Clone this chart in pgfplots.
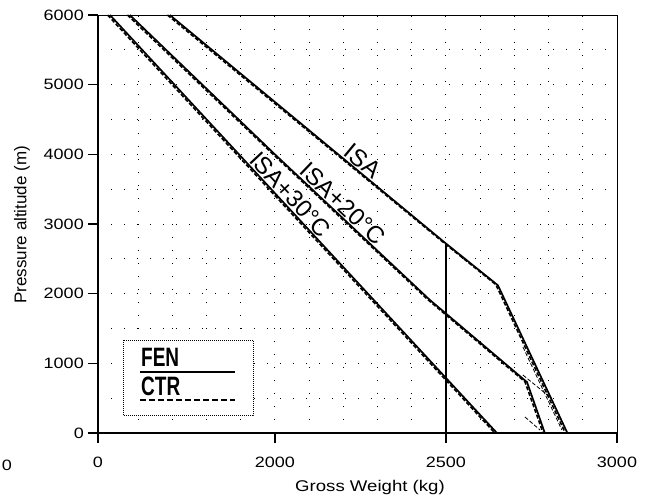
\documentclass[border=0pt]{standalone}
\usepackage{pgfplots}
\pgfplotsset{compat=1.18}
\usepackage{fontspec}
\setmainfont{Liberation Sans}
\begin{document}
\begin{tikzpicture}
\begin{axis}[
  at={(0bp,0bp)}, anchor=south west,
  scale only axis, width=519bp, height=418bp,
  xmin=1483, xmax=3000, ymin=0, ymax=6000,
  xtick={1483,2000,2500,3000}, xticklabels={0,2000,2500,3000},
  ytick={0,1000,...,6000},
  minor xtick={1600,1700,...,2900},
  minor ytick={500,1500,...,5500},
  grid=both,
  major grid style={line width=1bp, dash pattern=on 1bp off 12bp, black},
  minor grid style={line width=1bp, dash pattern=on 1bp off 12bp, black},
  tick align=outside, major tick length=10bp, minor tick length=0pt,
  xtick pos=bottom, ytick pos=left,
  axis line style={line width=0.9bp},
  tick style={line width=1.3bp, black},
  scaled ticks=false,
  /pgf/number format/1000 sep={},
  /pgf/number format/assume math mode=true,
  tick label style={font=\fontsize{15bp}{17bp}\selectfont, xscale=1.2},
  x tick label style={yshift=-11bp},
  xlabel={Gross Weight (kg)}, ylabel={Pressure altitude (m)},
  xlabel style={at={(rel axis cs:0.524,0)}, anchor=center, yshift=-54bp, font=\fontsize{15.5bp}{17bp}\selectfont, xscale=1.2},
  ylabel style={at={(rel axis cs:0,0.498)}, anchor=center, yshift=76bp, font=\fontsize{17bp}{19bp}\selectfont},
  clip=false,
]
% vertical line at 2500
\addplot[black, line width=1.5bp] coordinates {(2500,0) (2500,2720)};
% ISA
\addplot[black, line width=1.7bp] coordinates {(1693,6000) (2500,2720) (2652,2120) (2855,0)};
\addplot[black, line width=1.6bp, dash pattern=on 4bp off 2bp] coordinates {(1686,6000) (2494,2730) (2646,2130) (2849,0)};
% ISA+20
\addplot[black, line width=1.7bp] coordinates {(1576,6000) (2000,4000) (2453,1910) (2737,730) (2789,0)};
\addplot[black, line width=1.6bp, dash pattern=on 4bp off 2bp] coordinates {(1569,6000) (1994,4005) (2447,1915) (2731,735) (2784,0)};
% ISA+30
\addplot[black, line width=1.7bp] coordinates {(1518,6000) (2649,0)};
\addplot[black, line width=1.6bp, dash pattern=on 4bp off 2bp] coordinates {(1511,6000) (2643,0)};
% thin CTR divergences near the ground
\addplot[black, line width=0.8bp, dash pattern=on 4bp off 2bp] coordinates {(2725,1234) (2839,43)};
\addplot[black, line width=0.8bp, dash pattern=on 4bp off 2bp] coordinates {(2725,832) (2804,516)};
\addplot[black, line width=0.8bp, dash pattern=on 4bp off 2bp] coordinates {(2731,230) (2775,43)};
% curve labels
\node[font=\fontsize{24bp}{26bp}\selectfont, rotate=-39.6, anchor=south, inner sep=2bp] at (axis cs:2237,3789) {ISA};
\node[font=\fontsize{24bp}{26bp}\selectfont, rotate=-43.5, anchor=south, inner sep=2bp] at (axis cs:2177,3184) {ISA+20°C};
\node[font=\fontsize{24bp}{26bp}\selectfont, rotate=-47, anchor=south, inner sep=2bp] at (axis cs:2023,3321) {ISA+30°C};
\end{axis}
% thick left axis
\draw[line width=2bp] (0bp,0bp) -- (0bp,418bp);
\draw[line width=1.5bp] (0bp,0bp) -- (519bp,0bp);
% stray left label
\node[font=\fontsize{15bp}{17bp}\selectfont, xscale=1.2] at (-91bp,-32bp) {0};
% legend
\fill[white] (25bp,18bp) rectangle (155bp,93bp);
\draw[line width=0.8bp, dash pattern=on 1bp off 1bp] (25bp,18bp) rectangle (155bp,93bp);
\node[font=\bfseries\fontsize{19bp}{21bp}\selectfont, yscale=1.4, anchor=base west, inner sep=0pt] at (43bp,66bp) {FEN};
\draw[line width=1.6bp] (42bp,61bp) -- (137bp,61bp);
\node[font=\bfseries\fontsize{19bp}{21bp}\selectfont, yscale=1.4, anchor=base west, inner sep=0pt] at (43bp,38bp) {CTR};
\draw[line width=1.6bp, dash pattern=on 6bp off 3bp] (42bp,33bp) -- (137bp,33bp);
\pgfresetboundingbox
\path[use as bounding box] (-98bp,-68bp) rectangle (547bp,433bp);
\end{tikzpicture}
\end{document}
